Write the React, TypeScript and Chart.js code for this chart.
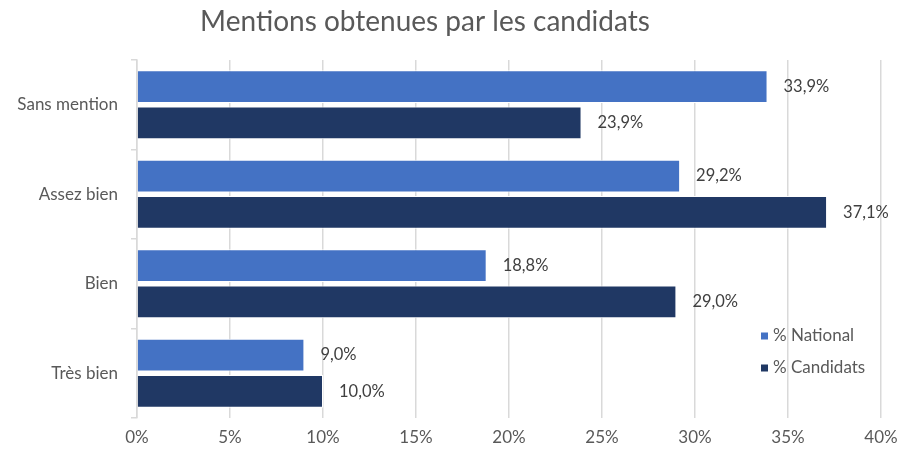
import React, { useEffect, useRef } from "react";
import { Chart, registerables } from "chart.js";

Chart.register(...registerables);

const TITLE = "Mentions obtenues par les candidats";
const categories = ["Sans mention", "Assez bien", "Bien", "Très bien"];
const seriesNames = ["% National", "% Candidats"];
const nationalValues = [33.9, 29.2, 18.8, 9.0];
const candidatsValues = [23.9, 37.1, 29.0, 10.0];
const seriesColors = ["#4472C4", "#203864"];
const xTicks = [0, 5, 10, 15, 20, 25, 30, 35, 40];

const FONT = "Lato, 'Open Sans', sans-serif";
const fmt = (v: number) => v.toFixed(1).replace(".", ",") + "%";

const titlePlugin = {
  id: "customTitle",
  afterDraw(chart: any) {
    const ctx = chart.ctx;
    ctx.save();
    ctx.font = `28px ${FONT}`;
    ctx.fillStyle = "#595959";
    ctx.textAlign = "center";
    ctx.textBaseline = "middle";
    ctx.fillText(TITLE, 425, 22);
    ctx.restore();
  },
};

const labelPlugin = {
  id: "dataLabels",
  afterDatasetsDraw(chart: any) {
    const ctx = chart.ctx;
    ctx.save();
    ctx.font = `16.5px ${FONT}`;
    ctx.fillStyle = "#404040";
    ctx.textAlign = "left";
    ctx.textBaseline = "middle";
    chart.data.datasets.forEach((ds: any, di: number) => {
      const meta = chart.getDatasetMeta(di);
      meta.data.forEach((bar: any, i: number) => {
        ctx.fillText(fmt(ds.data[i]), bar.x + 16, bar.y);
      });
    });
    ctx.restore();
  },
};

const legendPlugin = {
  id: "customLegend",
  afterDraw(chart: any) {
    const ctx = chart.ctx;
    ctx.save();
    ctx.font = `17px ${FONT}`;
    ctx.textAlign = "left";
    ctx.textBaseline = "middle";
    chart.data.datasets.forEach((ds: any, di: number) => {
      const y = 336 + di * 32;
      ctx.fillStyle = ds.backgroundColor;
      ctx.fillRect(761, y - 3.5, 7, 7);
      ctx.fillStyle = "#595959";
      ctx.fillText(ds.label, 773, y);
    });
    ctx.restore();
  },
};

export default function App() {
  const ref = useRef<HTMLCanvasElement>(null);
  useEffect(() => {
    const chart = new Chart(ref.current as HTMLCanvasElement, {
      type: "bar",
      data: {
        labels: categories,
        datasets: [
          {
            label: seriesNames[0],
            data: nationalValues,
            backgroundColor: seriesColors[0],
            borderColor: "#ffffff",
            borderWidth: 1,
          },
          {
            label: seriesNames[1],
            data: candidatsValues,
            backgroundColor: seriesColors[1],
            borderColor: "#ffffff",
            borderWidth: 1,
          },
        ],
      },
      options: {
        indexAxis: "y",
        animation: false,
        responsive: false,
        maintainAspectRatio: false,
        layout: { padding: { top: 60, right: 18, bottom: 0, left: 0 } },
        datasets: {
          bar: { categoryPercentage: 0.81, barPercentage: 0.9 },
        },
        plugins: {
          legend: { display: false },
          title: { display: false },
          tooltip: { enabled: false },
        },
        scales: {
          x: {
            type: "linear",
            min: 0,
            max: 40,
            afterBuildTicks: (scale: any) => {
              scale.ticks = xTicks.map((v) => ({ value: v }));
            },
            afterFit: (scale: any) => {
              scale.height = 36;
              scale.paddingRight = 0;
              scale.paddingLeft = 0;
            },
            ticks: {
              callback: (v: any) => v + "%",
              font: { family: FONT, size: 17 },
              color: "#595959",
              padding: 9,
            },
            grid: { color: "#d9d9d9", lineWidth: 1.5, drawTicks: false },
            border: { display: false },
          },
          y: {
            afterFit: (scale: any) => {
              scale.width = 137;
            },
            ticks: {
              font: { family: FONT, size: 17 },
              color: "#595959",
              padding: 13,
            },
            grid: {
              drawOnChartArea: false,
              drawTicks: true,
              tickLength: 6,
              color: "#d9d9d9",
              lineWidth: 1.5,
            },
            border: { display: true, color: "#d9d9d9", width: 1.5 },
          },
        },
      },
      plugins: [titlePlugin, labelPlugin, legendPlugin],
    } as any);
    return () => chart.destroy();
  }, []);
  return (
    <div style={{ position: "fixed", left: 0, top: 0, width: 899, height: 454, background: "#fff" }}>
      <canvas ref={ref} width={899} height={454} style={{ display: "block" }} />
    </div>
  );
}
